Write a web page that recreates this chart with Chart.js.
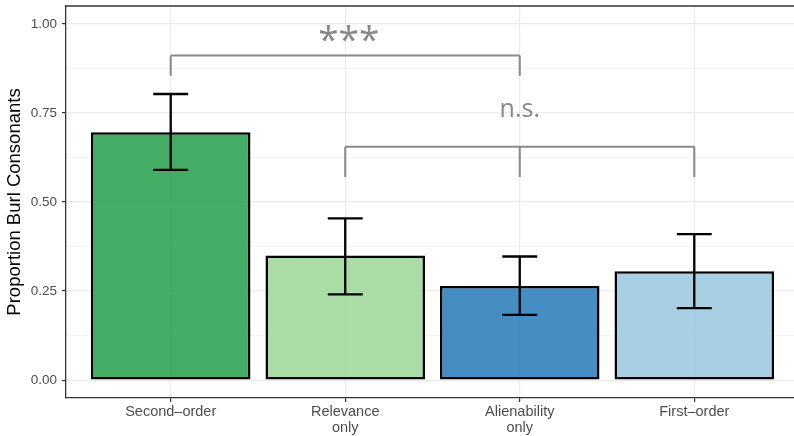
<!DOCTYPE html>
<html>
<head>
<meta charset="utf-8">
<script src="https://cdn.jsdelivr.net/npm/chart.js@4/dist/chart.umd.min.js"></script>
<style>
  html, body { margin: 0; padding: 0; overflow: hidden; background: #fff; }
  canvas { display: block; }
</style>
</head>
<body>
<canvas id="bar-chart" width="799" height="436"></canvas>
<script>
// categories and values
var categories = [["Second\u2013order"], ["Relevance", "only"], ["Alienability", "only"], ["First\u2013order"]];
var proportions = [0.696, 0.350, 0.264, 0.306];
var errLow = [0.590, 0.241, 0.183, 0.202];
var errHigh = [0.803, 0.454, 0.347, 0.410];
var barColors = ["rgba(49,163,84,0.9)", "rgba(161,217,155,0.9)", "rgba(49,130,189,0.9)", "rgba(158,202,225,0.9)"];
var yTicks = [0, 0.125, 0.25, 0.375, 0.5, 0.625, 0.75, 0.875, 1];

// significance brackets
var bracketLegs = [[0, 2], [1, 2, 3]];
var bracketY = [0.911, 0.655];
var bracketLegEnd = [0.854, 0.570];
var bracketLabels = ["***", "n.s."];
var bracketLabelX = [1.02, 2.0];
var bracketLabelY = [0.973, 0.758];

var gridColor = "#EBEBEB";
var axisColor = "#333333";
var sigColor = "#888888";

function isMajor(v) {
  return Math.abs(v * 4 - Math.round(v * 4)) < 1e-6;
}

var extras = {
  id: "extras",
  afterDatasetsDraw: function (chart) {
    var ctx = chart.ctx;
    var xs = chart.scales.x, ys = chart.scales.y;
    var area = chart.chartArea;
    ctx.save();

    // top border of the panel
    ctx.strokeStyle = axisColor;
    ctx.lineWidth = 1.3;
    ctx.beginPath();
    ctx.moveTo(area.left, area.top);
    ctx.lineTo(area.right, area.top);
    ctx.stroke();

    // error bars
    var capHalf = xs.getPixelForValue(0.1) - xs.getPixelForValue(0);
    ctx.strokeStyle = "#000";
    ctx.lineWidth = 2.3;
    for (var i = 0; i < proportions.length; i++) {
      var px = xs.getPixelForValue(i);
      var lo = ys.getPixelForValue(errLow[i]);
      var hi = ys.getPixelForValue(errHigh[i]);
      ctx.beginPath();
      ctx.moveTo(px, lo); ctx.lineTo(px, hi);
      ctx.moveTo(px - capHalf, lo); ctx.lineTo(px + capHalf, lo);
      ctx.moveTo(px - capHalf, hi); ctx.lineTo(px + capHalf, hi);
      ctx.stroke();
    }

    // brackets
    ctx.strokeStyle = sigColor;
    ctx.lineWidth = 2;
    for (var b = 0; b < bracketLegs.length; b++) {
      var legs = bracketLegs[b];
      var yTop = ys.getPixelForValue(bracketY[b]);
      var yEnd = ys.getPixelForValue(bracketLegEnd[b]);
      ctx.beginPath();
      ctx.moveTo(xs.getPixelForValue(legs[0]), yTop);
      ctx.lineTo(xs.getPixelForValue(legs[legs.length - 1]), yTop);
      legs.forEach(function (l) {
        var lx = xs.getPixelForValue(l);
        ctx.moveTo(lx, yTop);
        ctx.lineTo(lx, yEnd);
      });
      ctx.stroke();

      // label, centred on its ink
      ctx.fillStyle = sigColor;
      ctx.font = (b === 0 ? "37px" : "25px") + " 'Open Sans'";
      ctx.textAlign = "center";
      ctx.textBaseline = "alphabetic";
      var m = ctx.measureText(bracketLabels[b]);
      var inkMid = (m.actualBoundingBoxAscent - m.actualBoundingBoxDescent) / 2;
      ctx.fillText(bracketLabels[b], xs.getPixelForValue(bracketLabelX[b]), ys.getPixelForValue(bracketLabelY[b]) + inkMid);
    }

    // y axis title
    ctx.fillStyle = "#000";
    ctx.font = "18.5px 'Liberation Sans'";
    ctx.textAlign = "center";
    ctx.textBaseline = "middle";
    ctx.translate(15, (area.top + area.bottom) / 2);
    ctx.rotate(-Math.PI / 2);
    ctx.fillText("Proportion Burl Consonants", 0, 0);
    ctx.restore();
  }
};

var ctx = document.getElementById("bar-chart").getContext("2d");
var myChart = new Chart(ctx, {
  type: "bar",
  data: {
    datasets: [{
      data: proportions.map(function (v, i) { return { x: i, y: v }; }),
      backgroundColor: barColors,
      borderColor: "#000",
      borderWidth: 2.5,
      borderSkipped: false,
      barPercentage: 0.914,
      categoryPercentage: 1.0
    }]
  },
  options: {
    responsive: false,
    animation: false,
    devicePixelRatio: 1,
    layout: { padding: { top: 6, left: 0, right: 0, bottom: 0 } },
    plugins: { legend: { display: false }, tooltip: { enabled: false } },
    scales: {
      x: {
        type: "linear",
        min: -0.6,
        max: 3.6,
        offset: false,
        afterBuildTicks: function (scale) {
          scale.ticks = categories.map(function (c, i) { return { value: i }; });
        },
        afterFit: function (scale) {
          scale.height = 38;
          scale.paddingLeft = 0;
          scale.paddingRight = 0;
        },
        grid: { offset: false, color: gridColor, lineWidth: 1.2, tickLength: 4, tickColor: axisColor, tickWidth: 1.2 },
        border: { display: true, color: axisColor, width: 1.3 },
        ticks: {
          padding: 2,
          maxRotation: 0,
          autoSkip: false,
          color: "#4D4D4D",
          font: { family: "'Liberation Sans'", size: 14.5, lineHeight: 1.1 },
          callback: function (value) { return categories[value]; }
        }
      },
      y: {
        min: -0.05,
        max: 1.05,
        afterBuildTicks: function (scale) {
          scale.ticks = yTicks.map(function (v) { return { value: v }; });
        },
        afterFit: function (scale) {
          scale.width = 66;
          scale.paddingTop = 0;
          scale.paddingBottom = 0;
        },
        grid: {
          color: gridColor,
          lineWidth: function (c) { return isMajor(c.tick.value) ? 1.2 : 0.6; },
          tickLength: 4,
          tickColor: function (c) { return isMajor(c.tick.value) ? axisColor : "rgba(0,0,0,0)"; },
          tickWidth: 1.2
        },
        border: { display: true, color: axisColor, width: 1.3 },
        ticks: {
          padding: 5,
          autoSkip: false,
          color: "#4D4D4D",
          font: { family: "'Liberation Sans'", size: 13.5 },
          callback: function (value) { return isMajor(value) ? value.toFixed(2) : ""; }
        }
      }
    }
  },
  plugins: [extras]
});
</script>
</body>
</html>
